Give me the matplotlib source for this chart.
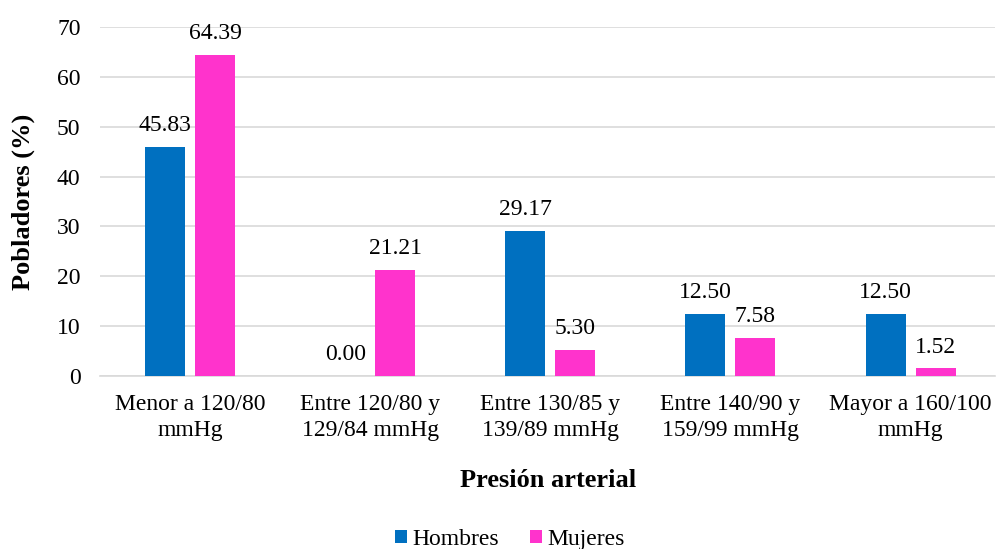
import numpy as np
import matplotlib.pyplot as plt

plt.rcParams['font.family'] = ['Liberation Serif', 'DejaVu Serif']

categories = ["Menor a 120/80\nmmHg", "Entre 120/80 y\n129/84 mmHg", "Entre 130/85 y\n139/89 mmHg",
              "Entre 140/90 y\n159/99 mmHg", "Mayor a 160/100\nmmHg"]
hombres = [45.83, 0.00, 29.17, 12.50, 12.50]
mujeres = [64.39, 21.21, 5.30, 7.58, 1.52]

fig = plt.figure(figsize=(9.98, 5.49), dpi=100)
ax = fig.add_axes([0.1002, 0.315, 0.897, 0.636])

x = np.arange(len(categories))
w = 0.222
b1 = ax.bar(x - 0.139, hombres, w, color='#0070C0', label='Hombres', zorder=3)
b2 = ax.bar(x + 0.139, mujeres, w, color='#FF33CC', label='Mujeres', zorder=3)

for bars, vals in [(b1, hombres), (b2, mujeres)]:
    for r, v in zip(bars, vals):
        ax.text(r.get_x() + r.get_width() / 2, v + 2.2, f"{v:.2f}",
                ha='center', va='bottom', fontsize=17)

ax.set_xlim(-0.5, 4.47)
ax.set_ylim(0, 70)
ax.set_yticks(range(0, 71, 10))
ax.set_xticks(x)
ax.set_xticklabels(categories, fontsize=17, linespacing=1.3)
ax.tick_params(axis='y', labelsize=17, length=0, pad=14)
ax.tick_params(axis='x', length=0, pad=13)
ax.grid(axis='y', color='#D9D9D9', linewidth=1.2, zorder=0)
for s in ['top', 'right', 'left']:
    ax.spines[s].set_visible(False)
ax.spines['bottom'].set_color('#D9D9D9')
ax.spines['bottom'].set_linewidth(1.2)

ax.set_ylabel("Pobladores (%)", fontsize=19, fontweight='bold', labelpad=16)
ax.set_xlabel("Presión arterial", fontsize=19, fontweight='bold', labelpad=20)

fig.legend(loc='center', bbox_to_anchor=(0.511, 0.018), ncol=2, frameon=False,
           fontsize=17, handlelength=0.5, handleheight=0.5, handletextpad=0.25,
           columnspacing=1.3)

fig.savefig("out.png", dpi=100)
